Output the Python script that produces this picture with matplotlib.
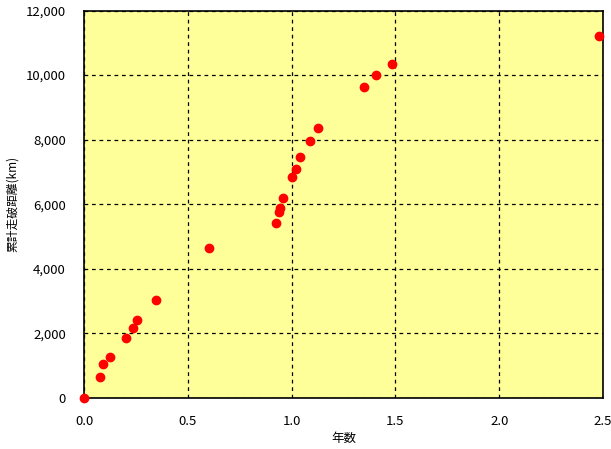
import matplotlib
matplotlib.use("Agg")
import matplotlib.pyplot as plt
from matplotlib.ticker import FuncFormatter, MultipleLocator

plt.rcParams['font.family'] = ['Noto Sans CJK JP', 'DejaVu Sans']

# years elapsed vs cumulative distance (km)
years = [0.0, 0.078, 0.092, 0.126, 0.200, 0.236, 0.256, 0.347, 0.602,
         0.924, 0.940, 0.945, 0.958, 1.001, 1.022, 1.039, 1.089, 1.126,
         1.347, 1.405, 1.482, 2.482]
distance_km = [0, 660, 1062, 1279, 1868, 2177, 2425, 3044, 4654,
               5429, 5769, 5874, 6203, 6844, 7091, 7473, 7968, 8370,
               9640, 10012, 10352, 11220]

fig = plt.figure(figsize=(6.11, 4.49), dpi=100)
ax = fig.add_axes([0.1375, 0.1136, 0.8495, 0.863])
ax.set_facecolor('#FFFF99')

ax.plot(years, distance_km, linestyle='none', marker='o', markersize=6,
        color='#FF0000', markeredgecolor='#FF0000', clip_on=False, zorder=3)

ax.set_xlim(0, 2.5)
ax.set_ylim(0, 12000)
ax.xaxis.set_major_locator(MultipleLocator(0.5))
ax.yaxis.set_major_locator(MultipleLocator(2000))
ax.xaxis.set_major_formatter(FuncFormatter(lambda v, p: f"{v:.1f}"))
ax.yaxis.set_major_formatter(FuncFormatter(lambda v, p: f"{int(v):,}"))

ax.grid(True, color='black', linestyle=(0, (3, 3)), linewidth=0.9)
ax.set_axisbelow(True)
ax.tick_params(axis='both', length=0, labelsize=9.5, colors='black')
ax.tick_params(axis='y', pad=13)
ax.tick_params(axis='x', pad=12)
for s in ax.spines.values():
    s.set_color('black')
    s.set_linewidth(1.2)

ax.set_xlabel('年数', fontsize=9, labelpad=3)
ax.set_ylabel('累計走破距離(km)', fontsize=8.5, labelpad=5)

fig.savefig('out.png', dpi=100, facecolor='white')
